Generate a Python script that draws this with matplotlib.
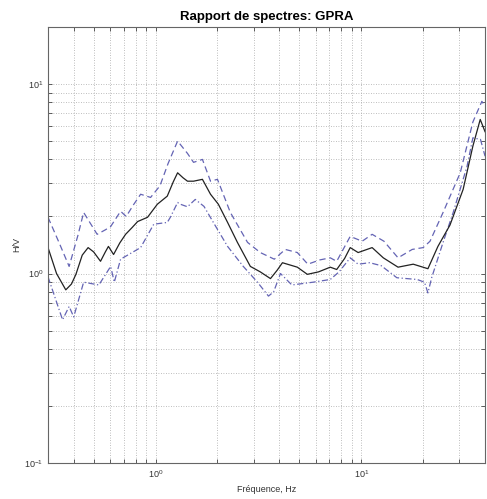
import numpy as np
import matplotlib
matplotlib.use("Agg")
import matplotlib.pyplot as plt
from matplotlib.ticker import LogLocator, LogFormatterSciNotation, NullFormatter

plt.rcParams['font.family'] = ['Liberation Sans', 'DejaVu Sans']

# H/V spectral ratio: mean and +/- one standard deviation
f_mean = [0.30, 0.33, 0.366, 0.39, 0.41, 0.44, 0.47, 0.50, 0.54, 0.57, 0.59, 0.625, 0.67, 0.715,
          0.77, 0.818, 0.914, 1.02, 1.14, 1.22, 1.28, 1.36, 1.43, 1.53, 1.69, 1.85, 2.02, 2.24,
          2.5, 2.89, 3.23, 3.62, 3.9, 4.14, 4.89, 5.47, 6.2, 7.07, 7.6, 8.3, 8.84, 9.66, 11.3,
          12.8, 15.1, 17.9, 21.1, 23.6, 27.0, 31.3, 34.9, 37.9, 40.0]
hv_mean = [1.37, 1.0, 0.82, 0.88, 0.99, 1.25, 1.37, 1.30, 1.16, 1.30, 1.39, 1.26, 1.45, 1.61,
           1.75, 1.88, 1.98, 2.32, 2.56, 3.05, 3.40, 3.20, 3.07, 3.07, 3.14, 2.62, 2.32, 1.86,
           1.46, 1.09, 1.02, 0.94, 1.04, 1.14, 1.08, 0.99, 1.02, 1.08, 1.05, 1.20, 1.37, 1.29, 1.37,
           1.21, 1.08, 1.12, 1.06, 1.39, 1.80, 2.78, 4.7, 6.5, 5.6]

f_upper = [0.30, 0.34, 0.38, 0.42, 0.447, 0.52, 0.57, 0.605, 0.676, 0.72, 0.78, 0.846,
           0.946, 1.05, 1.15, 1.28, 1.43, 1.53, 1.69, 1.85, 2.0, 2.31, 2.8, 3.23, 3.78,
           4.27, 4.89, 5.5, 6.3, 7.07, 7.6, 8.84, 10.1, 11.3, 12.9, 15.1, 17.7, 20.0,
           21.6, 25.0, 30.3, 34.9, 38.6, 40.0]
hv_upper = [1.98, 1.45, 1.09, 1.60, 2.10, 1.61, 1.70, 1.77, 2.13, 2.0, 2.3, 2.62,
            2.52, 2.9, 3.8, 5.0, 4.3, 3.86, 4.0, 3.07, 3.14, 2.10, 1.46, 1.29, 1.19,
            1.34, 1.29, 1.12, 1.18, 1.21, 1.16, 1.57, 1.48, 1.61, 1.48, 1.21, 1.34, 1.37,
            1.48, 2.1, 3.4, 6.3, 8.1, 7.6]

f_lower = [0.30, 0.353, 0.38, 0.40, 0.447, 0.53, 0.605, 0.63, 0.676, 0.846, 0.98, 1.14,
           1.18, 1.28, 1.32, 1.43, 1.56, 1.72, 1.91, 2.24, 2.67, 3.13, 3.54, 3.75, 4.05,
           4.6, 5.84, 7.07, 7.8, 8.84, 9.66, 11.0, 12.5, 14.9, 18.7, 20.3, 21.1, 22.0,
           25.0, 28.0, 32.7, 34.9, 38.0, 40.0]
hv_lower = [0.96, 0.57, 0.67, 0.59, 0.90, 0.87, 1.09, 0.90, 1.19, 1.37, 1.82, 1.86,
            1.98, 2.37, 2.32, 2.25, 2.46, 2.26, 1.86, 1.39, 1.09, 0.90, 0.76, 0.80, 1.00,
            0.87, 0.90, 0.93, 1.02, 1.21, 1.12, 1.14, 1.10, 0.95, 0.93, 0.90, 0.79, 0.95,
            1.46, 2.1, 3.68, 5.2, 5.1, 4.16]

title = "Rapport de spectres: GPRA"
xlabel = "Fréquence, Hz"
ylabel = "H/V"

fig = plt.figure(figsize=(4.87, 4.99), dpi=100)
ax = fig.add_axes([0.0986, 0.0721, 0.8974, 0.8739])

band_color = "#6464b4"
ax.plot(f_upper, hv_upper, color=band_color, lw=0.9, ls=(0, (5, 3)), solid_joinstyle="round")
ax.plot(f_lower, hv_lower, color=band_color, lw=0.9, ls=(0, (5, 2, 1, 2)), solid_joinstyle="round")
ax.plot(f_mean, hv_mean, color="#222222", lw=0.9, solid_joinstyle="round")

ax.set_xscale("log")
ax.set_yscale("log")
ax.set_xlim(0.3, 40)
ax.set_ylim(0.1, 20)

ax.xaxis.set_major_locator(LogLocator(base=10))
ax.yaxis.set_major_locator(LogLocator(base=10))
ax.xaxis.set_minor_locator(LogLocator(base=10, subs=np.arange(2, 10)))
ax.yaxis.set_minor_locator(LogLocator(base=10, subs=np.arange(2, 10)))
ax.xaxis.set_major_formatter(LogFormatterSciNotation())
ax.yaxis.set_major_formatter(LogFormatterSciNotation())
ax.xaxis.set_minor_formatter(NullFormatter())
ax.yaxis.set_minor_formatter(NullFormatter())

ax.grid(True, which="both", color="#a8a8a8", ls=(0, (1, 2)), lw=0.6)
ax.tick_params(which="both", direction="in", top=True, right=True,
               length=3, width=0.6, color="#444444", labelsize=6.5, labelcolor="#333333")
for s in ax.spines.values():
    s.set_color("#666666")
    s.set_linewidth(0.8)

ax.set_title(title, fontsize=9.5, fontweight="bold", pad=5)
ax.set_xlabel(xlabel, fontsize=6.5, color="#333333", labelpad=4)
ax.set_ylabel(ylabel, fontsize=6.5, color="#333333", labelpad=2)

fig.savefig("out.png", dpi=100)
